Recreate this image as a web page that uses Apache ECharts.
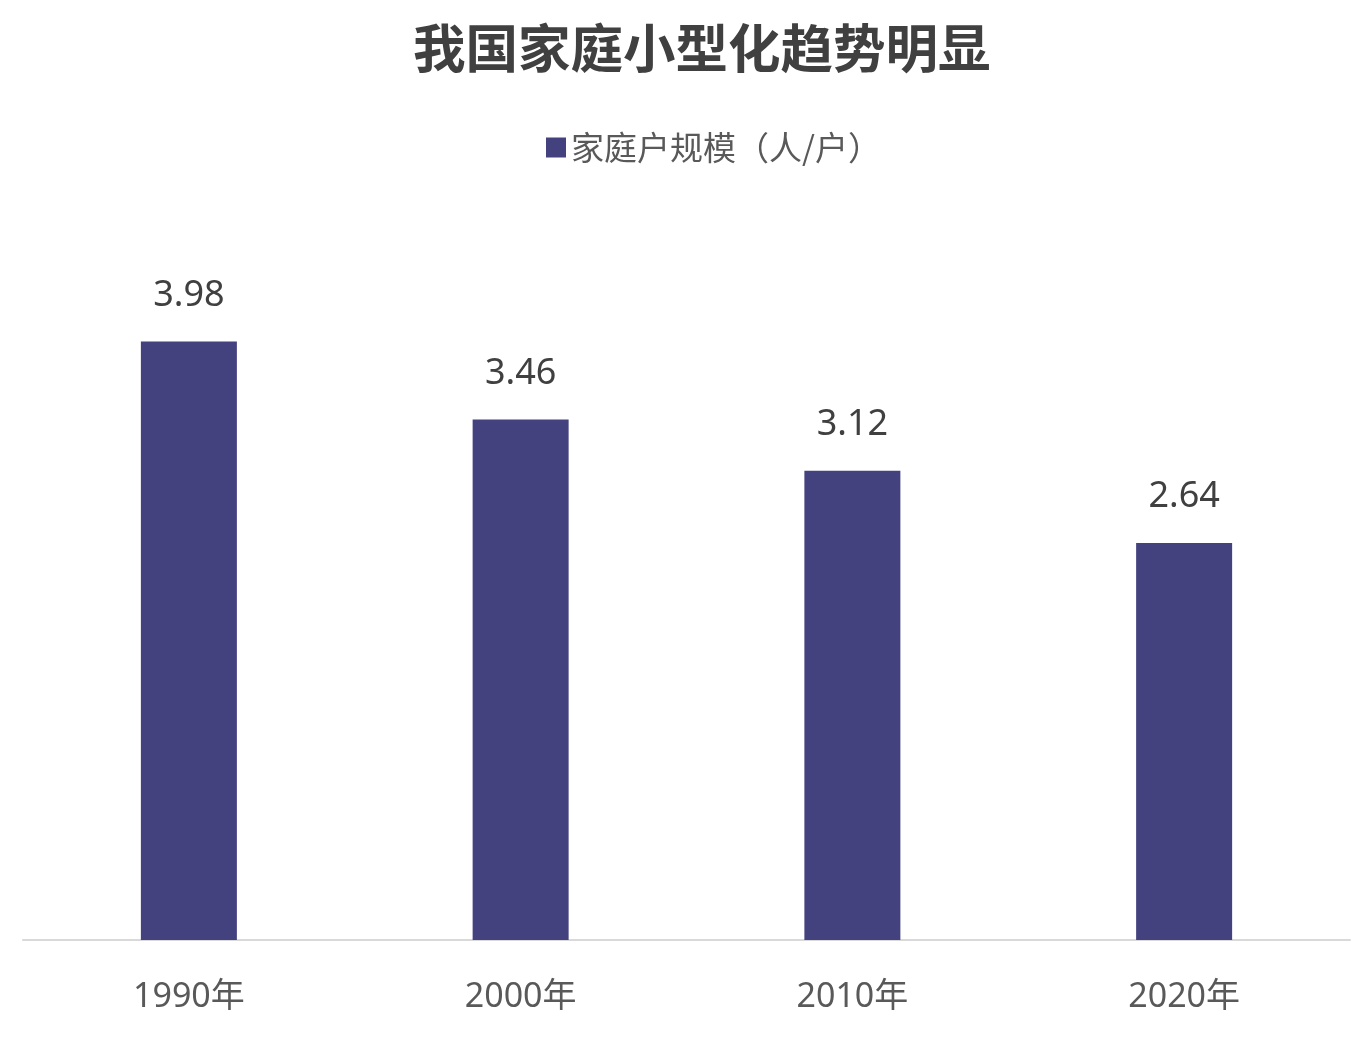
<!DOCTYPE html>
<html>
<head>
<meta charset="utf-8">
<script src="https://cdn.jsdelivr.net/npm/echarts@6/dist/echarts.min.js"></script>
<style>
  html, body { margin: 0; padding: 0; background: #fff; }
  #chart { width: 1371px; height: 1040px; }
</style>
</head>
<body>
<div id="chart"></div>
<script>
// 数据
var years = ["1990年", "2000年", "2010年", "2020年"];
var householdSize = [3.98, 3.46, 3.12, 2.64];

var myChart = echarts.init(document.getElementById("chart"));
myChart.setOption({
  title: {
    text: "我国家庭小型化趋势明显",
    left: 408,
    top: 17,
    textStyle: {
      fontFamily: "Noto Sans CJK SC",
      fontSize: 52.5,
      fontWeight: "bold",
      color: "#404040",
    },
  },
  legend: {
    data: ["家庭户规模（人/户）"],
    top: 126,
    left: 541,
    itemWidth: 20,
    itemHeight: 20,
    itemGap: 7,
    icon: "rect",
    textStyle: {
      fontFamily: "Noto Sans CJK SC",
      fontSize: 33,
      color: "#595959",
    },
  },
  grid: {
    left: 23,
    right: 21,
    top: 188,
    bottom: 100,
    containLabel: false,
  },
  xAxis: {
    type: "category",
    data: years,
    axisLine: { lineStyle: { color: "#d9d9d9", width: 2 } },
    axisTick: { show: false },
    axisLabel: {
      margin: 40,
      fontFamily: "Noto Sans, Noto Sans CJK SC",
      fontSize: 34,
      color: "#595959",
    },
  },
  yAxis: {
    type: "value",
    min: 0,
    max: 5,
    show: false,
    splitLine: { show: false },
  },
  series: [
    {
      name: "家庭户规模（人/户）",
      type: "bar",
      data: householdSize,
      barWidth: 96,
      itemStyle: { color: "#43427f" },
      label: {
        show: true,
        position: "top",
        distance: 28,
        fontFamily: "Noto Sans",
        fontSize: 36,
        color: "#404040",
      },
    },
  ],
});
</script>
</body>
</html>
